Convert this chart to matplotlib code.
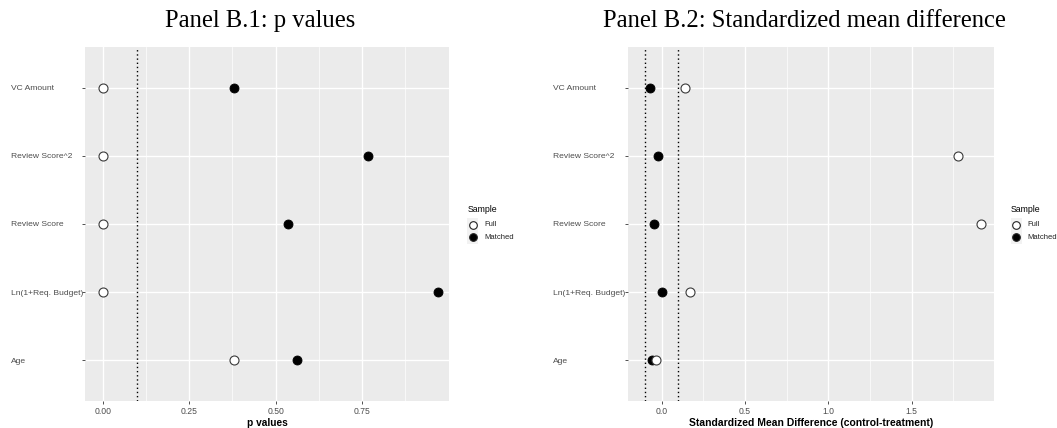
import matplotlib
matplotlib.use("Agg")
import matplotlib.pyplot as plt
from matplotlib.lines import Line2D
from matplotlib.patches import Rectangle
import numpy as np

# covariates, top to bottom
variables = ["VC Amount", "Review Score^2", "Review Score", "Ln(1+Req. Budget)", "Age"]

# balance tests: p values
p_full = [0.0, 0.0, 0.0, 0.0, 0.38]
p_matched = [0.38, 0.768, 0.535, 0.97, 0.562]

# standardized mean differences (control - treatment)
smd_full = [0.142, 1.779, 1.915, 0.172, -0.036]
smd_matched = [-0.068, -0.022, -0.044, 0.002, -0.056]

plt.rcParams["font.family"] = ["Liberation Sans", "DejaVu Sans"]

BG = "#EBEBEB"
TXT = "#4D4D4D"

fig = plt.figure(figsize=(10.57, 4.28), dpi=100)
W, H = 1057, 428


def px_axes(x0, x1, y0, y1):
    return fig.add_axes([x0 / W, 1 - y1 / H, (x1 - x0) / W, (y1 - y0) / H])


def draw_panel(ax, full, matched, xlim, major, minor, ticklabels, vlines, xlabel, xlsize):
    ypos = np.arange(len(variables))[::-1] + 1
    ax.set_facecolor(BG)
    for s in ax.spines.values():
        s.set_visible(False)
    ax.set_xlim(*xlim)
    ax.set_ylim(0.4, len(variables) + 0.6)
    for m in minor:
        ax.axvline(m, color="white", lw=0.5, zorder=0)
    for m in major:
        ax.axvline(m, color="white", lw=1.0, zorder=0)
    for y in ypos:
        ax.axhline(y, color="white", lw=1.0, zorder=0)
    for v in vlines:
        ax.axvline(v, color="black", lw=1.0, ls=(0, (1, 2)), zorder=1)
    ax.scatter(matched, ypos, s=42, c="black", edgecolors="black", lw=0.6, zorder=3)
    ax.scatter(full, ypos, s=42, c="white", edgecolors="#3a3a3a", lw=0.8, zorder=4)

    ax.set_xticks(major)
    ax.set_xticklabels(ticklabels)
    ax.set_yticks(ypos)
    ax.set_yticklabels(variables, ha="left")
    ax.tick_params(axis="x", colors="#333333", labelcolor=TXT, labelsize=6.2,
                   length=2, width=0.6, pad=2.5)
    ax.tick_params(axis="y", colors="#333333", labelcolor=TXT, labelsize=6.1,
                   length=2, width=0.6, pad=51.5)
    ax.set_xlabel(xlabel, fontsize=xlsize, fontweight="bold", color="black", labelpad=1)


ax1 = px_axes(85, 449, 47, 401)
draw_panel(ax1, p_full, p_matched, (-0.052, 1.002),
           [0, 0.25, 0.5, 0.75], [0.125, 0.375, 0.625, 0.875],
           ["0.00", "0.25", "0.50", "0.75"], [0.1], "p values", 7.3)

ax2 = px_axes(627.7, 993.7, 47, 401)
draw_panel(ax2, smd_full, smd_matched, (-0.204, 1.992),
           [0, 0.5, 1.0, 1.5], [0.25, 0.75, 1.25, 1.75],
           ["0.0", "0.5", "1.0", "1.5"], [-0.1, 0.1],
           "Standardized Mean Difference (control-treatment)", 7.5)

fig.text(260 / W, 1 - 21 / H, "Panel B.1: p values", family="Liberation Serif",
         fontsize=17.7, ha="center", va="center")
fig.text(804 / W, 1 - 21 / H, "Panel B.2: Standardized mean difference",
         family="Liberation Serif", fontsize=17.7, ha="center", va="center")

# legends
for lx in (467.5, 1011):
    fig.text(lx / W, 1 - 210 / H, "Sample", fontsize=6.3, color="black",
             ha="left", va="center")
    fig.patches.append(Rectangle(((lx - 0.5) / W, 1 - 244 / H), 11 / W, 26 / H,
                                 transform=fig.transFigure, facecolor="#F2F2F2",
                                 edgecolor="none", zorder=0))
    for i, (lab, face) in enumerate([("Full", "white"), ("Matched", "black")]):
        yy = 1 - (224.5 + 12.8 * i) / H
        fig.add_artist(Line2D([(lx + 5) / W], [yy], marker="o", markersize=5.5,
                              markerfacecolor=face, markeredgecolor="#222222",
                              markeredgewidth=0.8, linestyle="none",
                              transform=fig.transFigure))
        fig.text((lx + 16.5) / W, yy, lab, fontsize=5.5, color="#222222",
                 ha="left", va="center")

fig.savefig("out.png", dpi=100, facecolor="white")
